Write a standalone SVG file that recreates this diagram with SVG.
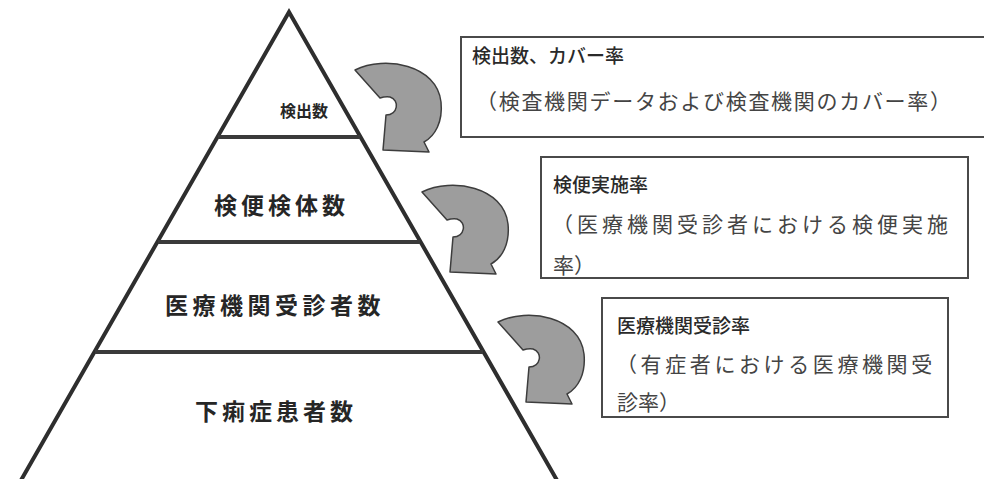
<svg xmlns="http://www.w3.org/2000/svg" width="984" height="479" viewBox="0 0 984 479">
<defs>
<style>
.tri{fill:none;stroke:#2e2e2e;stroke-width:4;stroke-linejoin:miter}
.div{stroke:#3a3a3a;stroke-width:4}
.lab{font-family:"Noto Sans CJK JP","Noto Sans CJK SC",sans-serif;font-weight:bold;fill:#262626}
.box{fill:#fff;stroke:#4a4a4a;stroke-width:2}
.hd{font-family:"Noto Sans CJK JP","Noto Sans CJK SC",sans-serif;font-weight:500;font-size:19px;fill:#2a2a2a}
.tx{font-family:"Noto Sans CJK JP","Noto Sans CJK SC",sans-serif;font-weight:normal;font-size:21px;fill:#444}
.arr{fill:#9d9d9d;stroke:#3d3d3d;stroke-width:1.5;stroke-linejoin:round}
</style>
<path id="carrow" d="M15,10 C45,-5 97,5 101,42 C103,62 95,76 84,82 L89,92 L43,90 L46,55 C58,55 60,40 50,37 C46,36 43,37 40,38 Z"/>
</defs>
<rect width="984" height="479" fill="#fff"/>
<g id="pyramid">
<path class="tri" d="M20,482 L289,12 L558,482"/>
<line class="div" x1="218" y1="137" x2="360" y2="137"/>
<line class="div" x1="158" y1="242" x2="420" y2="242"/>
<line class="div" x1="95" y1="352" x2="483" y2="352"/>
</g>
<g id="level1"><text class="lab" x="280" y="117" font-size="16">検出数</text></g>
<g id="level2"><text class="lab" x="214" y="214" font-size="23" letter-spacing="4">検便検体数</text></g>
<g id="level3"><text class="lab" x="165" y="314" font-size="23" letter-spacing="4.5">医療機関受診者数</text></g>
<g id="level4"><text class="lab" x="195" y="420" font-size="23" letter-spacing="4">下痢症患者数</text></g>
<g id="connectors">
<use href="#carrow" class="arr" transform="translate(340,60)"/>
<use href="#carrow" class="arr" transform="translate(407,182)"/>
<use href="#carrow" class="arr" transform="translate(483,312)"/>
</g>
<g id="box1">
<rect class="box" x="461" y="37" width="530" height="100"/>
<text class="hd" x="472" y="63">検出数、カバー率</text>
<text class="tx" x="476" y="109" letter-spacing="1.7">（検査機関データおよび検査機関のカバー率）</text>
</g>
<g id="box2">
<rect class="box" x="541" y="157" width="427" height="121"/>
<text class="hd" x="553" y="192">検便実施率</text>
<text class="tx" x="552" y="232" letter-spacing="4">（医療機関受診者における検便実施</text>
<text class="tx" x="553" y="273">率）</text>
</g>
<g id="box3">
<rect class="box" x="602" y="298" width="346" height="119"/>
<text class="hd" x="617" y="333">医療機関受診率</text>
<text class="tx" x="616" y="372" letter-spacing="3.6">（有症者における医療機関受</text>
<text class="tx" x="617" y="410">診率）</text>
</g>
</svg>
